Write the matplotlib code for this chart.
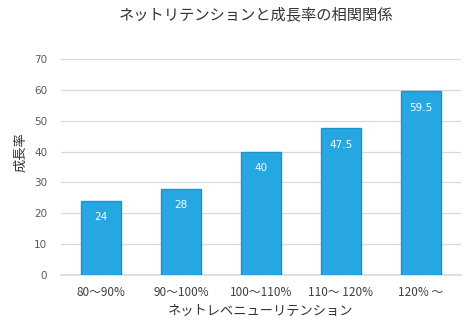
import matplotlib
matplotlib.use("Agg")
import matplotlib.pyplot as plt

categories = ["80～90%", "90～100%", "100～110%", "110～ 120%", "120% ～"]
growth = [24, 28, 40, 47.5, 59.5]
value_labels = ["24", "28", "40", "47.5", "59.5"]
yticks = [0, 10, 20, 30, 40, 50, 60, 70]

BAR = "#27a7e1"
EDGE = "#1b92d4"
GRID = "#d9d9d9"
TXT = "#595959"
JP = ["Noto Sans CJK JP", "DejaVu Sans"]

plt.rcParams["font.family"] = JP

fig = plt.figure(figsize=(4.76, 3.24), dpi=100)
ax = fig.add_axes([61 / 476, 1 - 275 / 324, 400 / 476, 216 / 324])

x = list(range(len(categories)))
ax.bar(x, growth, width=0.5, color=BAR, edgecolor=EDGE, linewidth=1, zorder=3)
for xi, v, lab in zip(x, growth, value_labels):
    ax.annotate(lab, (xi, v), xytext=(0, -8), textcoords="offset points",
                ha="center", va="top", color="white", fontsize=7.5,
                family="DejaVu Sans", zorder=4)

ax.set_xlim(-0.5, 4.5)
ax.set_ylim(0, 70)
ax.set_yticks(yticks)
ax.set_yticklabels([str(t) for t in yticks], family="DejaVu Sans",
                   fontsize=7.5, color=TXT)
ax.set_xticks(x)
ax.set_xticklabels(categories, fontsize=8.5, color="#404040")
ax.tick_params(length=0, pad=8)
ax.tick_params(axis="y", pad=10)
ax.grid(axis="y", color=GRID, lw=0.9, zorder=0)
ax.set_axisbelow(True)
for s in ("top", "right", "left"):
    ax.spines[s].set_visible(False)
ax.spines["bottom"].set_color(GRID)
ax.spines["bottom"].set_linewidth(1.2)

ax.set_xlabel("ネットレベニューリテンション", fontsize=9.5, color="#333333",
              labelpad=4)
ax.set_ylabel("成長率", fontsize=9.5, color="#333333")
ax.yaxis.set_label_coords(-0.085, 0.57)
fig.text(256 / 476, 1 - 15 / 324, "ネットリテンションと成長率の相関関係",
         ha="center", va="center", fontsize=11, color="#333333")

fig.savefig("out.png", dpi=100)
